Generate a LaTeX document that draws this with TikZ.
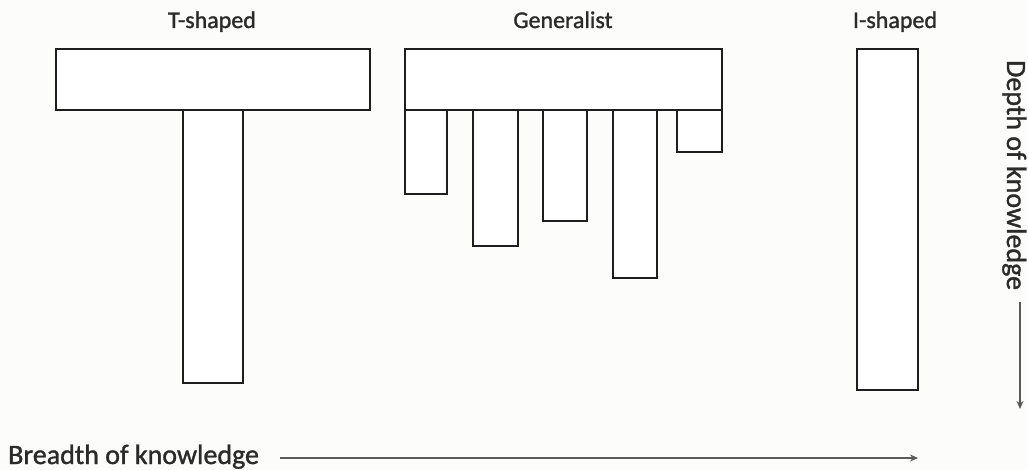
\documentclass[tikz,border=0pt]{standalone}
\usepackage{fontspec}
\setmainfont{Carlito}
\newfontfamily\labelfont{Carlito}[FakeBold=1.2]
\usetikzlibrary{arrows.meta}
\definecolor{paper}{HTML}{FCFDFA}
\definecolor{ink}{HTML}{1E1E1E}
\definecolor{textink}{HTML}{2A2A2A}
\definecolor{axis}{HTML}{5A5A5A}
\begin{document}
\begin{tikzpicture}[x=1pt,y=-1pt,
  block/.style={draw=ink,line width=2pt,fill=white,rectangle,inner sep=0pt,outer sep=0pt,anchor=north west},
  title/.style={font=\labelfont\fontsize{24}{28}\selectfont,text=textink,inner sep=0pt,anchor=base},
  axislabel/.style={font=\labelfont\fontsize{28}{32}\selectfont,text=textink,inner sep=0pt,anchor=base west},
  axisarrow/.style={draw=axis,line width=1.5pt,-{Stealth[length=8pt,width=7pt]}}]
  \fill[paper] (0,0) rectangle (1028,470);
  \useasboundingbox (0,0) rectangle (1028,470);

  % column titles
  \node[title] (tT) at (212,28) {T-shaped};
  \node[title] (tG) at (563,28) {Generalist};
  \node[title] (tI) at (895,28) {I-shaped};

  % T-shaped profile
  \node[block,minimum width=60pt,minimum height=273pt] (Tstem) at (183,110) {};
  \node[block,minimum width=314pt,minimum height=61pt] (Tbar) at (56,49) {};

  % Generalist profile
  \node[block,minimum width=42pt,minimum height=84pt] (g1) at (405,110) {};
  \node[block,minimum width=45pt,minimum height=136pt] (g2) at (473,110) {};
  \node[block,minimum width=44pt,minimum height=111pt] (g3) at (543,110) {};
  \node[block,minimum width=44pt,minimum height=168pt] (g4) at (613,110) {};
  \node[block,minimum width=45pt,minimum height=42pt] (g5) at (677,110) {};
  \node[block,minimum width=317pt,minimum height=61pt] (Gbar) at (405,49) {};

  % I-shaped profile
  \node[block,minimum width=61pt,minimum height=341pt] (Ibar) at (857,49) {};

  % breadth axis along the bottom
  \node[axislabel] (breadth) at (8,464) {Breadth of knowledge};
  \coordinate (breadthStart) at (280,458);
  \coordinate (breadthEnd) at (918,458);
  \draw[axisarrow] (breadthStart) -- (breadthEnd);

  % depth axis down the right edge
  \node[axislabel,rotate=-90] (depth) at (1007,60) {Depth of knowledge};
  \coordinate (depthStart) at (1020,302);
  \coordinate (depthEnd) at (1020,409);
  \draw[axisarrow] (depthStart) -- (depthEnd);
\end{tikzpicture}
\end{document}
